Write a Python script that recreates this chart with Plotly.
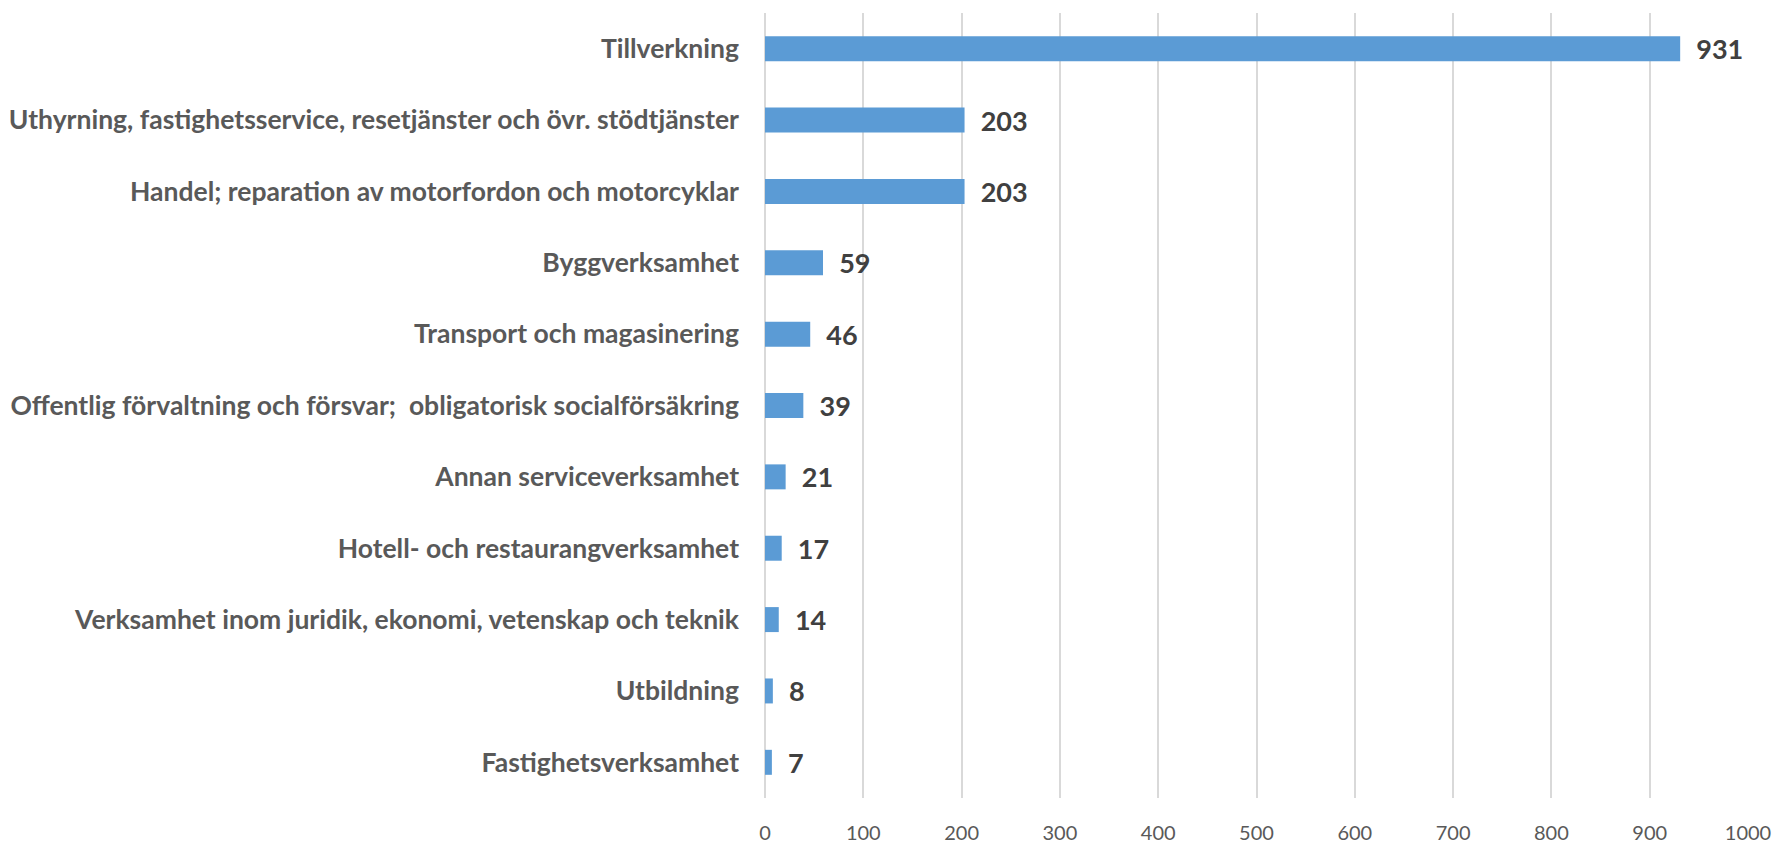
import plotly.graph_objects as go

categories = [
    "Tillverkning",
    "Uthyrning, fastighetsservice, resetjänster och övr. stödtjänster",
    "Handel; reparation av motorfordon och motorcyklar",
    "Byggverksamhet",
    "Transport och magasinering",
    "Offentlig förvaltning och försvar;  obligatorisk socialförsäkring",
    "Annan serviceverksamhet",
    "Hotell- och restaurangverksamhet",
    "Verksamhet inom juridik, ekonomi, vetenskap och teknik",
    "Utbildning",
    "Fastighetsverksamhet",
]
values = [931, 203, 203, 59, 46, 39, 21, 17, 14, 8, 7]
x_ticks = [0, 100, 200, 300, 400, 500, 600, 700, 800, 900, 1000]

fig = go.Figure(
    go.Bar(
        x=values,
        y=categories,
        orientation="h",
        marker=dict(color="#5B9BD5", line=dict(width=0)),
        texttemplate="\u00a0\u00a0%{x}",
        textposition="outside",
        constraintext="none",
        textfont=dict(family="Lato", size=27, color="#404040", weight="bold"),
        cliponaxis=False,
    )
)

fig.update_layout(
    width=1783,
    height=841,
    paper_bgcolor="white",
    plot_bgcolor="white",
    margin=dict(l=757, r=43, t=5, b=51),
    bargap=0.65,
    showlegend=False,
    xaxis=dict(
        range=[0, 1000],
        tickvals=x_ticks,
        showgrid=True,
        gridcolor="#D9D9D9",
        gridwidth=1.5,
        zeroline=True,
        zerolinecolor="#D9D9D9",
        zerolinewidth=1.5,
        showline=False,
        ticks="",
        ticklabelstandoff=21,
        tickfont=dict(family="Lato", size=20, color="#595959"),
        fixedrange=True,
        automargin=False,
    ),
    yaxis=dict(
        autorange="reversed",
        showgrid=False,
        showline=False,
        zeroline=False,
        ticks="",
        ticklabelstandoff=25,
        automargin=False,
        tickfont=dict(family="Lato", size=26.5, color="#595959", weight="bold"),
    ),
)

fig.write_html("out.html")
